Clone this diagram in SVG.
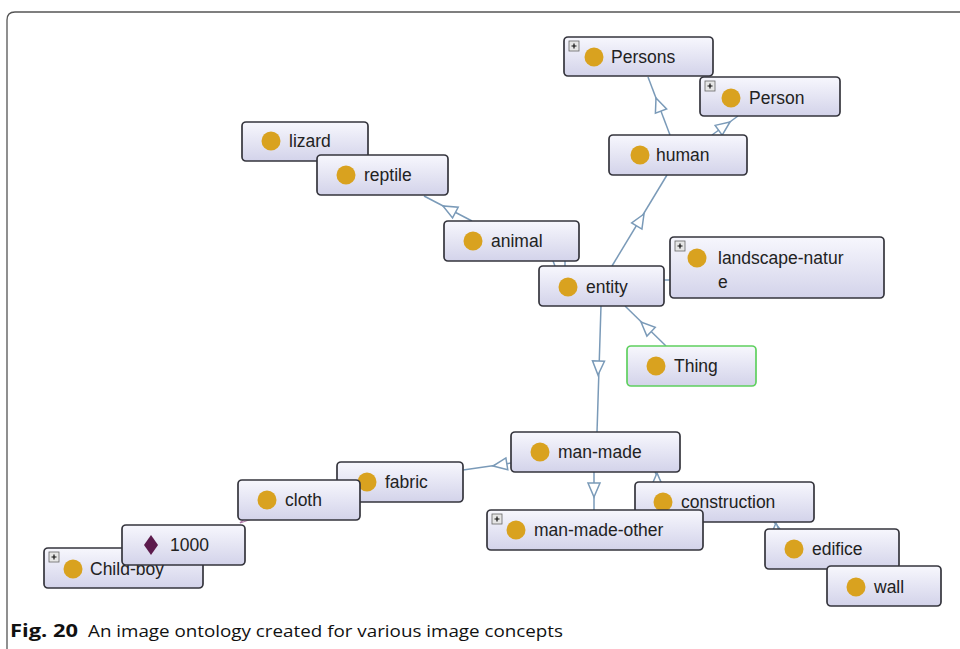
<svg xmlns="http://www.w3.org/2000/svg" xmlns:xlink="http://www.w3.org/1999/xlink" width="960" height="649" viewBox="0 0 960 649">
<defs>
<linearGradient id="g" x1="0" y1="0" x2="0" y2="1">
<stop offset="0" stop-color="#f7f7fd"/>
<stop offset="1" stop-color="#d3d3ea"/>
</linearGradient>
<path id="tri" d="M0,0 L-14,-6 L-14,6 Z"/>
<g id="plus"><rect x="0" y="0" width="10" height="10" fill="#e6e6e6" stroke="#666" stroke-width="0.8"/><path d="M2.5,5 H7.5 M5,2.5 V7.5" stroke="#111" stroke-width="1.2"/></g>
<style>
.n rect.b{fill:url(#g);stroke:#35353d;stroke-width:1.7}
.n circle{fill:#d9a21f}
.n text{font-family:"Liberation Sans",Arial,sans-serif;font-size:17.5px;fill:#222}
.c line{stroke:#7a9ab8;stroke-width:1.5}
.c use{fill:#fff;stroke:#7a9ab8;stroke-width:1.5}
.cap{font-family:"Open Sans","Liberation Sans",sans-serif;font-size:17px;fill:#111}
</style>
</defs>
<rect width="960" height="649" fill="#fff"/>
<path d="M7,649 V20 Q7,12 15,12 H960" fill="none" stroke="#555" stroke-width="1.3"/>

<g class="c" id="connectors">
<line x1="670" y1="135" x2="648" y2="77"/>
<use xlink:href="#tri" transform="translate(656,98) rotate(-111)"/>
<line x1="712" y1="135" x2="738" y2="116"/>
<use xlink:href="#tri" transform="translate(730,122) rotate(-36)"/>
<line x1="612" y1="266" x2="667" y2="175"/>
<use xlink:href="#tri" transform="translate(644,214) rotate(-59)"/>
<line x1="553" y1="261" x2="555" y2="266"/>
<line x1="565" y1="261" x2="565" y2="266"/>
<line x1="472" y1="221" x2="424" y2="196"/>
<use xlink:href="#tri" transform="translate(443,206) rotate(-152)"/>
<line x1="664" y1="280" x2="670" y2="280"/>
<line x1="666" y1="346" x2="625" y2="306"/>
<use xlink:href="#tri" transform="translate(641,322) rotate(-136)"/>
<line x1="601" y1="306" x2="597" y2="432"/>
<use xlink:href="#tri" transform="translate(598,375) rotate(92)"/>
<line x1="511" y1="463" x2="463" y2="470"/>
<use xlink:href="#tri" transform="translate(493,466) rotate(171)"/>
<line x1="594" y1="472" x2="594" y2="510"/>
<use xlink:href="#tri" transform="translate(594,497) rotate(90)"/>
<line x1="655" y1="472" x2="661" y2="482"/>
<use xlink:href="#tri" transform="translate(657,473) rotate(-90)"/>
<line x1="774" y1="522" x2="780" y2="529"/>
<use xlink:href="#tri" transform="translate(776,523) rotate(-90)"/>
<path d="M240,523 L244,519 L249,520 Z" fill="#fff" stroke="#b07aa8" stroke-width="1.2"/>
</g>

<g class="n" id="n-persons"><rect class="b" x="564" y="37" width="149" height="39" rx="4"/><use xlink:href="#plus" x="569" y="41"/><circle cx="594" cy="57" r="9.5"/><text x="611" y="63">Persons</text></g>
<g class="n" id="n-person"><rect class="b" x="700" y="77" width="140" height="39" rx="4"/><use xlink:href="#plus" x="705" y="81"/><circle cx="731" cy="98" r="9.5"/><text x="749" y="104">Person</text></g>
<g class="n" id="n-human"><rect class="b" x="609" y="135" width="138" height="40" rx="4"/><circle cx="640" cy="155" r="9.5"/><text x="656" y="161">human</text></g>
<g class="n" id="n-lizard"><rect class="b" x="242" y="122" width="126" height="39" rx="4"/><circle cx="271" cy="141" r="9.5"/><text x="289" y="147">lizard</text></g>
<g class="n" id="n-reptile"><rect class="b" x="317" y="155" width="131" height="40" rx="4"/><circle cx="346" cy="175" r="9.5"/><text x="364" y="181">reptile</text></g>
<g class="n" id="n-animal"><rect class="b" x="444" y="221" width="135" height="40" rx="4"/><circle cx="473" cy="241" r="9.5"/><text x="491" y="247">animal</text></g>
<g class="n" id="n-entity"><rect class="b" x="539" y="266" width="125" height="40" rx="4"/><circle cx="568" cy="287" r="9.5"/><text x="586" y="293">entity</text></g>
<g class="n" id="n-landscape"><rect class="b" x="670" y="237" width="214" height="61" rx="4"/><use xlink:href="#plus" x="675" y="241"/><circle cx="697" cy="258" r="9.5"/><text x="718" y="264">landscape-natur</text><text x="718" y="288">e</text></g>
<g class="n" id="n-thing"><rect class="b" x="627" y="346" width="129" height="40" rx="4" style="stroke:#5fd05f"/><circle cx="656" cy="366" r="9.5"/><text x="674" y="372">Thing</text></g>
<g class="n" id="n-manmade"><rect class="b" x="511" y="432" width="169" height="40" rx="4"/><circle cx="540" cy="452" r="9.5"/><text x="558" y="458">man-made</text></g>
<g class="n" id="n-fabric"><rect class="b" x="337" y="462" width="126" height="40" rx="4"/><circle cx="367" cy="482" r="9.5"/><text x="385" y="488">fabric</text></g>
<g class="n" id="n-cloth"><rect class="b" x="238" y="480" width="122" height="40" rx="4"/><circle cx="267" cy="500" r="9.5"/><text x="285" y="506">cloth</text></g>
<g class="n" id="n-childboy"><rect class="b" x="44" y="548" width="159" height="40" rx="4"/><use xlink:href="#plus" x="49" y="552"/><circle cx="73" cy="569" r="9.5"/><text x="90" y="575">Child-boy</text></g>
<g class="n" id="n-1000"><rect class="b" x="122" y="525" width="123" height="40" rx="4"/><path d="M151,535 L158,545 L151,555 L144,545 Z" fill="#5c1a4c"/><text x="170" y="551">1000</text></g>
<g class="n" id="n-construction"><rect class="b" x="635" y="482" width="179" height="40" rx="4"/><circle cx="663" cy="502" r="9.5"/><text x="681" y="508">construction</text></g>
<g class="n" id="n-manmadeother"><rect class="b" x="487" y="510" width="216" height="40" rx="4"/><use xlink:href="#plus" x="492" y="514"/><circle cx="516" cy="530" r="9.5"/><text x="534" y="536">man-made-other</text></g>
<g class="n" id="n-edifice"><rect class="b" x="765" y="529" width="134" height="40" rx="4"/><circle cx="794" cy="549" r="9.5"/><text x="812" y="555">edifice</text></g>
<g class="n" id="n-wall"><rect class="b" x="827" y="566" width="114" height="40" rx="4"/><circle cx="856" cy="587" r="9.5"/><text x="874" y="593">wall</text></g>

<text class="cap" x="10" y="637" font-weight="bold" textLength="68" lengthAdjust="spacingAndGlyphs">Fig. 20</text>
<text class="cap" x="88" y="637" textLength="475" lengthAdjust="spacingAndGlyphs">An image ontology created for various image concepts</text>
</svg>
